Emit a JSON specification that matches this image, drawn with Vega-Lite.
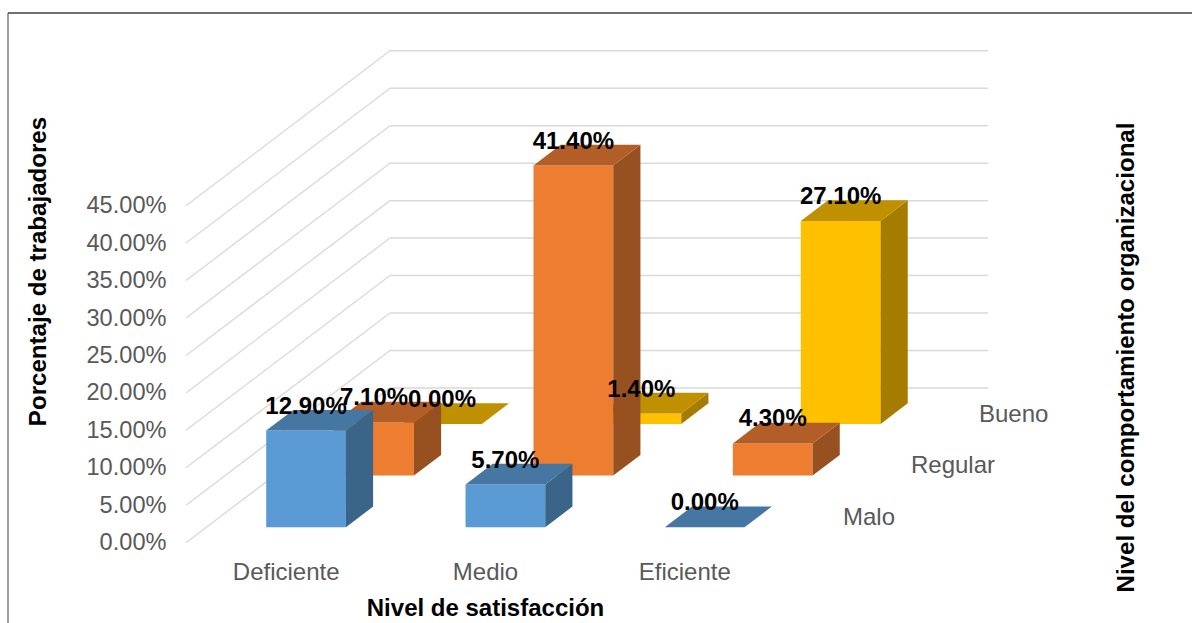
{
  "$schema": "https://vega.github.io/schema/vega-lite/v6.json",
  "width": 1184,
  "height": 610,
  "padding": {"left": 8, "top": 13, "right": 0, "bottom": 0},
  "autosize": "none",
  "background": "white",
  "view": {"stroke": null},
  "config": {"font": "Liberation Sans"},
  "datasets": {
    "barras": [
      {"nivel": "Deficiente", "comportamiento": "Malo", "valor": 0.129},
      {"nivel": "Medio", "comportamiento": "Malo", "valor": 0.057},
      {"nivel": "Eficiente", "comportamiento": "Malo", "valor": 0.0},
      {"nivel": "Deficiente", "comportamiento": "Regular", "valor": 0.071},
      {"nivel": "Medio", "comportamiento": "Regular", "valor": 0.414},
      {"nivel": "Eficiente", "comportamiento": "Regular", "valor": 0.043},
      {"nivel": "Deficiente", "comportamiento": "Bueno", "valor": 0.0},
      {"nivel": "Medio", "comportamiento": "Bueno", "valor": 0.014},
      {"nivel": "Eficiente", "comportamiento": "Bueno", "valor": 0.271}
    ],
    "marcas": [
      {"marca": 0}, {"marca": 0.05}, {"marca": 0.1}, {"marca": 0.15}, {"marca": 0.2},
      {"marca": 0.25}, {"marca": 0.3}, {"marca": 0.35}, {"marca": 0.4}, {"marca": 0.45}
    ],
    "filas": [
      {"comportamiento": "Malo"},
      {"comportamiento": "Regular"},
      {"comportamiento": "Bueno"}
    ]
  },
  "layer": [
    {
      "mark": {"type": "rule", "color": "#7f7f7f", "strokeWidth": 1.5},
      "data": {"values": [{}]},
      "encoding": {
        "x": {"datum": -0.893, "type": "quantitative", "axis": null, "scale": {"domain": [-0.893, 5.047], "nice": false, "zero": false}}
      }
    },
    {
      "mark": {"type": "rule", "color": "#404040", "strokeWidth": 1.5},
      "data": {"values": [{}]},
      "encoding": {
        "y": {"datum": 0.7072, "type": "quantitative", "axis": null, "scale": {"domain": [-0.1072, 0.7072], "nice": false, "zero": false}}
      }
    },
    {
      "data": {"name": "marcas"},
      "transform": [
        {"calculate": "datum.marca + 0.2067", "as": "fondo"},
        {"calculate": "1.0233", "as": "xFondo"},
        {"calculate": "0", "as": "xFrente"}
      ],
      "mark": {"type": "rule", "color": "#d9d9d9", "strokeWidth": 1.3},
      "encoding": {
        "x": {
          "field": "xFrente", "type": "quantitative",
          "scale": {"domain": [-0.893, 5.047], "nice": false, "zero": false},
          "axis": {
            "orient": "bottom", "offset": -63, "values": [0.5, 1.5, 2.5],
            "labelExpr": "['Deficiente', 'Medio', 'Eficiente'][floor(datum.value)]",
            "labelFontSize": 24, "labelColor": "#595959", "labelPadding": 0, "labelOffset": 0,
            "labelOverlap": false, "labelBound": false, "labelFlush": false,
            "ticks": false, "domain": false, "grid": false,
            "title": "Nivel de satisfacción", "titleFontSize": 24, "titleFontWeight": "bold",
            "titleColor": "#000000", "titleX": 477, "titleY": 36, "titleAnchor": "middle"
          }
        },
        "x2": {"field": "xFondo"},
        "y": {
          "field": "marca", "type": "quantitative",
          "scale": {"domain": [-0.1072, 0.7072], "nice": false, "zero": false},
          "axis": {
            "orient": "left", "offset": -158, "values": [0, 0.05, 0.1, 0.15, 0.2, 0.25, 0.3, 0.35, 0.4, 0.45],
            "format": ".2%",
            "labelFontSize": 23.6, "labelColor": "#595959", "labelPadding": 0, "labelOffset": 0,
            "labelOverlap": false, "labelBound": false, "labelFlush": false,
            "ticks": false, "domain": false, "grid": false,
            "title": "Porcentaje de trabajadores", "titleFontSize": 24.1, "titleFontWeight": "bold",
            "titleColor": "#000000", "titleX": -116, "titleY": 258, "titleAngle": 270, "titleAnchor": "middle"
          }
        },
        "y2": {"field": "fondo"}
      }
    },
    {
      "data": {"name": "marcas"},
      "transform": [
        {"calculate": "datum.marca + 0.2067", "as": "fondo"},
        {"calculate": "1.0233", "as": "xIni"},
        {"calculate": "4.0233", "as": "xFin"}
      ],
      "mark": {"type": "rule", "color": "#d9d9d9", "strokeWidth": 1.5},
      "encoding": {
        "x": {"field": "xIni", "type": "quantitative", "axis": null},
        "x2": {"field": "xFin"},
        "y": {
          "field": "fondo", "type": "quantitative",
          "axis": {
            "orient": "right", "offset": -66, "labels": false, "ticks": false, "domain": false, "grid": false,
            "title": "Nivel del comportamiento organizacional", "titleFontSize": 24.1, "titleFontWeight": "bold",
            "titleColor": "#000000", "titleX": 12, "titleY": 344, "titleAngle": 270, "titleAnchor": "middle"
          }
        }
      }
    },
    {
      "data": {"name": "filas"},
      "transform": [
        {"calculate": "indexof(['Malo', 'Regular', 'Bueno'], datum.comportamiento)", "as": "j"},
        {"calculate": "3 + 0.3411 * (datum.j + 0.5)", "as": "xFila"},
        {"calculate": "0.0689 * (datum.j + 0.5)", "as": "yFila"}
      ],
      "mark": {"type": "text", "align": "left", "baseline": "middle", "dx": 25, "dy": 1, "fontSize": 24, "color": "#595959"},
      "encoding": {
        "x": {"field": "xFila", "type": "quantitative", "axis": null},
        "y": {"field": "yFila", "type": "quantitative", "axis": null},
        "text": {"field": "comportamiento"}
      }
    },
    {
      "data": {"name": "barras"},
      "transform": [
        {"calculate": "indexof(['Deficiente', 'Medio', 'Eficiente'], datum.nivel)", "as": "i"},
        {"calculate": "indexof(['Malo', 'Regular', 'Bueno'], datum.comportamiento)", "as": "j"},
        {"calculate": "datum.i + 0.3 + 0.3411 * (datum.j + 0.3)", "as": "xBase"},
        {"calculate": "datum.xBase + 0.4", "as": "xDer"},
        {"calculate": "datum.xBase + 0.2", "as": "xCentro"},
        {"calculate": "0.0689 * (datum.j + 0.3)", "as": "yBase"},
        {"calculate": "datum.yBase + datum.valor", "as": "yTope"},
        {"calculate": "[0, 1]", "as": "paso"}
      ],
      "layer": [
        {
          "transform": [{"filter": "datum.j == 2"}],
          "layer": [
            {
              "mark": {"type": "rect", "fill": "#FFC000"},
              "encoding": {
                "x": {"field": "xBase", "type": "quantitative", "axis": null},
                "x2": {"field": "xDer"},
                "y": {"field": "yBase", "type": "quantitative", "axis": null},
                "y2": {"field": "yTope"}
              }
            },
            {
              "transform": [
                {"flatten": ["paso"]},
                {"calculate": "datum.xDer + datum.paso * 0.1364", "as": "xCara"},
                {"calculate": "datum.yBase + datum.paso * 0.0276", "as": "yCara"},
                {"calculate": "datum.yTope + datum.paso * 0.0276", "as": "yCara2"}
              ],
              "mark": {"type": "area", "orient": "vertical", "fill": "#A67C00"},
              "encoding": {
                "detail": {"field": "nivel"},
                "x": {"field": "xCara", "type": "quantitative", "axis": null},
                "y": {"field": "yCara", "type": "quantitative", "axis": null, "stack": null},
                "y2": {"field": "yCara2"}
              }
            },
            {
              "transform": [
                {"flatten": ["paso"]},
                {"calculate": "datum.xBase + datum.paso * 0.1364", "as": "xCara"},
                {"calculate": "datum.xDer + datum.paso * 0.1364", "as": "xCara2"},
                {"calculate": "datum.yTope + datum.paso * 0.0276", "as": "yCara"}
              ],
              "mark": {"type": "area", "orient": "horizontal", "fill": "#BF9000"},
              "encoding": {
                "detail": {"field": "nivel"},
                "x": {"field": "xCara", "type": "quantitative", "axis": null, "stack": null},
                "x2": {"field": "xCara2"},
                "y": {"field": "yCara", "type": "quantitative", "axis": null}
              }
            }
          ]
        },
        {
          "transform": [{"filter": "datum.j == 1"}],
          "layer": [
            {
              "mark": {"type": "rect", "fill": "#ED7D31"},
              "encoding": {
                "x": {"field": "xBase", "type": "quantitative", "axis": null},
                "x2": {"field": "xDer"},
                "y": {"field": "yBase", "type": "quantitative", "axis": null},
                "y2": {"field": "yTope"}
              }
            },
            {
              "transform": [
                {"flatten": ["paso"]},
                {"calculate": "datum.xDer + datum.paso * 0.1364", "as": "xCara"},
                {"calculate": "datum.yBase + datum.paso * 0.0276", "as": "yCara"},
                {"calculate": "datum.yTope + datum.paso * 0.0276", "as": "yCara2"}
              ],
              "mark": {"type": "area", "orient": "vertical", "fill": "#97501F"},
              "encoding": {
                "detail": {"field": "nivel"},
                "x": {"field": "xCara", "type": "quantitative", "axis": null},
                "y": {"field": "yCara", "type": "quantitative", "axis": null, "stack": null},
                "y2": {"field": "yCara2"}
              }
            },
            {
              "transform": [
                {"flatten": ["paso"]},
                {"calculate": "datum.xBase + datum.paso * 0.1364", "as": "xCara"},
                {"calculate": "datum.xDer + datum.paso * 0.1364", "as": "xCara2"},
                {"calculate": "datum.yTope + datum.paso * 0.0276", "as": "yCara"}
              ],
              "mark": {"type": "area", "orient": "horizontal", "fill": "#B25E26"},
              "encoding": {
                "detail": {"field": "nivel"},
                "x": {"field": "xCara", "type": "quantitative", "axis": null, "stack": null},
                "x2": {"field": "xCara2"},
                "y": {"field": "yCara", "type": "quantitative", "axis": null}
              }
            }
          ]
        },
        {
          "transform": [{"filter": "datum.j == 0"}],
          "layer": [
            {
              "mark": {"type": "rect", "fill": "#5B9BD5"},
              "encoding": {
                "x": {"field": "xBase", "type": "quantitative", "axis": null},
                "x2": {"field": "xDer"},
                "y": {"field": "yBase", "type": "quantitative", "axis": null},
                "y2": {"field": "yTope"}
              }
            },
            {
              "transform": [
                {"flatten": ["paso"]},
                {"calculate": "datum.xDer + datum.paso * 0.1364", "as": "xCara"},
                {"calculate": "datum.yBase + datum.paso * 0.0276", "as": "yCara"},
                {"calculate": "datum.yTope + datum.paso * 0.0276", "as": "yCara2"}
              ],
              "mark": {"type": "area", "orient": "vertical", "fill": "#3A6488"},
              "encoding": {
                "detail": {"field": "nivel"},
                "x": {"field": "xCara", "type": "quantitative", "axis": null},
                "y": {"field": "yCara", "type": "quantitative", "axis": null, "stack": null},
                "y2": {"field": "yCara2"}
              }
            },
            {
              "transform": [
                {"flatten": ["paso"]},
                {"calculate": "datum.xBase + datum.paso * 0.1364", "as": "xCara"},
                {"calculate": "datum.xDer + datum.paso * 0.1364", "as": "xCara2"},
                {"calculate": "datum.yTope + datum.paso * 0.0276", "as": "yCara"}
              ],
              "mark": {"type": "area", "orient": "horizontal", "fill": "#4676A2"},
              "encoding": {
                "detail": {"field": "nivel"},
                "x": {"field": "xCara", "type": "quantitative", "axis": null, "stack": null},
                "x2": {"field": "xCara2"},
                "y": {"field": "yCara", "type": "quantitative", "axis": null}
              }
            }
          ]
        },
        {
          "mark": {"type": "text", "align": "center", "baseline": "middle", "dx": 0, "dy": -24, "fontSize": 24, "fontWeight": "bold", "color": "#000000"},
          "encoding": {
            "x": {"field": "xCentro", "type": "quantitative", "axis": null},
            "y": {"field": "yTope", "type": "quantitative", "axis": null},
            "text": {"field": "valor", "type": "quantitative", "format": ".2%"}
          }
        }
      ]
    }
  ],
  "resolve": {"axis": {"x": "independent", "y": "independent"}}
}
